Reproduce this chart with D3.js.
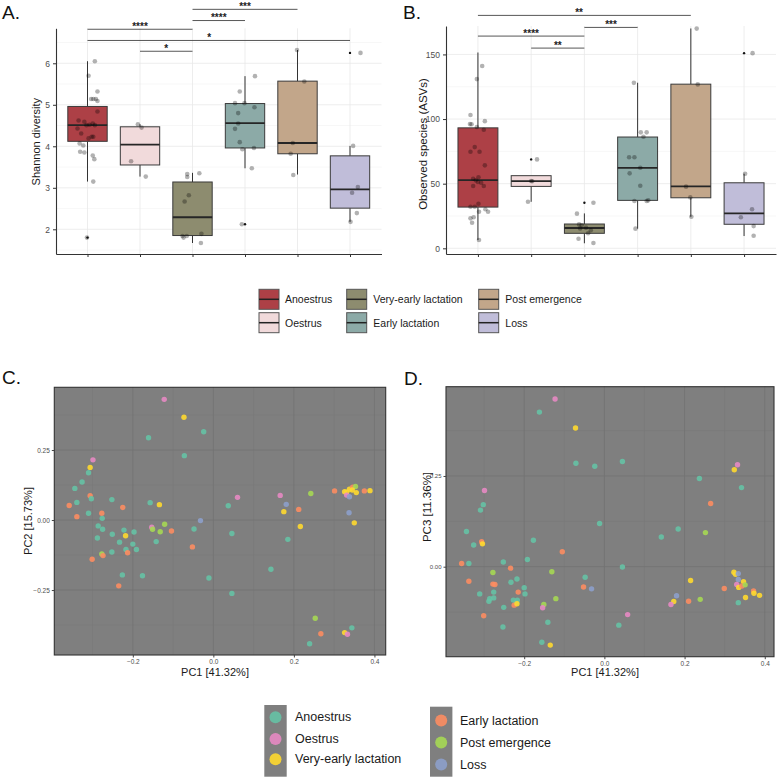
<!DOCTYPE html>
<html><head><meta charset="utf-8">
<script src="https://cdn.jsdelivr.net/npm/d3@7"></script>
<style>body{margin:0;background:#fff}svg{display:block;font-family:"Liberation Sans",Arial,sans-serif}</style>
</head><body><svg id="c" width="777" height="778"></svg>
<script>
// ---------- DATA ----------
const groups = ["Anoestrus","Oestrus","Very-early lactation","Early lactation","Post emergence","Loss"];

// Panel A: Shannon diversity (box stats)
const shannonQ1 = [4.12, 3.55, 1.85, 3.96, 3.82, 2.51];
const shannonMedian = [4.51, 4.04, 2.29, 4.56, 4.08, 2.96];
const shannonQ3 = [4.96, 4.47, 3.14, 5.03, 5.57, 3.77];
const shannonLower = [3.15, 3.27, 1.67, 3.47, 3.32, 2.18];
const shannonUpper = [6.05, 4.53, 3.36, 5.69, 6.32, 4.01];
const shannonOutliers = [[1.80], [], [], [2.12], [], [6.25]];
// jittered samples: [value, jitter in category units]
const shannonPoints = [
  [[6.05,0.14],[5.70,0.02],[5.32,0.19],[5.14,0.07],[5.14,0.11],[5.14,0.16],[5.09,0.19],[4.84,0.19],[4.62,-0.17],[4.59,-0.06],[4.51,-0.02],[4.52,0.04],[4.55,0.10],[4.51,0.14],[4.43,-0.19],[4.31,-0.12],[4.19,0.02],[4.23,0.08],[4.23,0.11],[4.07,-0.15],[4.02,-0.08],[3.87,-0.14],[3.85,-0.06],[3.78,0.10],[3.69,0.13],[3.15,0.11],[1.80,-0.01]],
  [[4.53,-0.04],[4.45,0.03],[3.64,-0.17],[3.27,0.11]],
  [[3.33,-0.10],[3.26,-0.10],[3.35,0.13],[2.82,-0.07],[2.67,-0.15],[1.84,-0.19],[1.84,-0.11],[1.80,-0.17],[1.89,0.17],[1.67,0.16]],
  [[5.69,0.19],[5.32,-0.10],[5.04,-0.19],[5.04,-0.01],[4.94,0.18],[4.80,-0.13],[4.55,-0.13],[4.42,-0.19],[4.10,-0.10],[3.93,-0.05],[3.96,0.17],[3.47,0.13],[2.12,-0.06]],
  [[6.32,-0.01],[5.56,0.13],[4.08,-0.09],[3.82,-0.13],[3.31,-0.08]],
  [[6.25,0.20],[4.01,0.06],[3.02,0.15],[2.88,0.04],[2.39,0.13],[2.18,0.01]]
];
const shannonTicks = [2, 3, 4, 5, 6];
const shannonMinor = [1.5, 2.5, 3.5, 4.5, 5.5, 6.5];
// brackets: [from group, to group, y value, label, label position (category units)]
const shannonBrackets = [[0,2,6.82,"****",1.0],[0,5,6.55,"*",2.32],[1,2,6.29,"*",1.5],[2,3,7.03,"****",2.5],[2,4,7.30,"***",3.0]];

// Panel B: Observed species
const observedQ1 = [31.9, 47.9, 11.6, 37.1, 39.1, 18.6];
const observedMedian = [52.8, 52.0, 15.7, 62.3, 47.9, 27.1];
const observedQ3 = [93.2, 56.2, 18.8, 86.1, 127.0, 50.7];
const observedLower = [6.4, 36.0, 3.9, 15.2, 24.4, 9.5];
const observedUpper = [151.5, 56.2, 27.0, 128.1, 170.1, 57.7];
const observedOutliers = [[], [68.8], [35.3], [], [], [151.0]];
const observedPoints = [
  [[141,0.08],[130.9,-0.02],[103.1,-0.14],[96.1,-0.15],[96,-0.12],[98.4,0.13],[93.8,-0.02],[91.7,0.11],[78.3,-0.06],[74.7,-0.14],[74.7,0.03],[64.2,0.13],[53.8,-0.09],[54.9,0.01],[52.6,-0.04],[51.3,0],[50.7,0.06],[48.2,-0.09],[48.2,0.11],[34.5,0.01],[32.2,-0.14],[32.2,-0.06],[30.2,0.14],[28.3,0.19],[28.3,0.02],[23.2,-0.14],[24,-0.08],[19.8,-0.11],[6.4,0.02]],
  [[68.8,0.11],[51.9,0.02],[52.1,0.0],[36,-0.06]],
  [[35.2,0.17],[26.8,-0.14],[18.5,-0.1],[17.9,-0.05],[16,0.03],[15.4,-0.08],[14,0.12],[11.6,0.07],[7.4,-0.11],[4.1,0.17]],
  [[128,-0.07],[89.7,0.06],[89.7,0.17],[86.3,0.11],[70.4,-0.16],[70.4,-0.06],[58,-0.15],[62.3,0.05],[48.4,0.05],[36.6,-0.06],[36.6,0.17],[37.1,0.2],[15.2,-0.04]],
  [[170,0.11],[126.8,0.13],[47.7,-0.09],[39.4,-0.01],[24.4,0.01]],
  [[151,0.16],[57.7,0.02],[30.2,0.15],[24,-0.06],[17.2,0.18],[9.7,0.18]]
];
const observedTicks = [0, 50, 100, 150];
const observedMinor = [25, 75, 125];
const observedBrackets = [[0,4,180.2,"**",1.9],[0,2,164.2,"****",1.0],[1,2,154.9,"**",1.5],[2,3,170.9,"***",2.5]];

// Panels C & D: PCoA samples [PC1, PC2/PC3, group index]
const pcoaPC1PC2 = [
[-0.122,0.431,1],[-0.073,0.367,2],[-0.024,0.315,0],[-0.161,0.294,0],[-0.072,0.230,0],[-0.299,0.215,1],[-0.306,0.188,2],[-0.310,0.169,0],[-0.326,0.136,0],[-0.344,0.113,0],
[-0.306,0.087,3],[-0.303,0.076,0],[-0.252,0.073,0],[-0.339,0.063,0],[-0.358,0.052,3],[-0.157,0.062,0],[-0.134,0.055,2],[-0.225,0.045,3],[-0.310,0.024,0],[-0.277,0.024,3],
[-0.339,0.012,3],[-0.276,0.006,0],[-0.286,-0.021,0],[-0.275,-0.033,0],[-0.288,-0.064,0],[-0.251,-0.051,0],[-0.222,-0.036,0],[-0.218,-0.056,2],[-0.197,-0.043,0],[-0.233,-0.079,0],
[-0.200,-0.086,0],[-0.217,-0.105,0],[-0.191,-0.105,0],[-0.252,-0.114,0],[-0.277,-0.121,4],[-0.274,-0.127,3],[-0.213,-0.117,3],[-0.301,-0.140,3],[-0.226,-0.196,0],[-0.176,-0.199,0],
[-0.235,-0.235,3],[-0.153,-0.026,1],[-0.151,-0.033,4],[-0.132,-0.042,4],[-0.121,-0.015,4],[-0.142,-0.077,0],[-0.104,-0.039,3],[-0.032,-0.002,5],[-0.048,-0.032,0],[-0.052,-0.096,3],
[-0.011,-0.207,0],[0.046,-0.262,0],[0.037,0.051,0],[0.060,0.081,1],[0.046,-0.048,0],[0.143,-0.176,0],[0.166,0.088,1],[0.181,0.056,5],[0.175,0.030,2],[0.212,0.038,3],
[0.216,-0.023,2],[0.185,-0.069,0],[0.242,0.095,4],[0.301,0.104,3],[0.326,0.101,2],[0.331,0.099,2],[0.338,0.110,2],[0.331,0.089,1],[0.338,0.083,5],[0.346,0.117,3],
[0.353,0.120,4],[0.355,0.098,2],[0.345,0.107,2],[0.375,0.104,3],[0.389,0.105,2],[0.337,0.026,5],[0.350,-0.010,2],[0.253,-0.351,4],[0.344,-0.385,0],[0.267,-0.406,3],
[0.326,-0.402,2],[0.333,-0.408,1],[0.239,-0.442,0]
];
const pcoaPC1PC3 = [
[-0.123,0.462,1],[-0.162,0.426,0],[-0.072,0.382,2],[-0.071,0.285,0],[-0.024,0.277,0],[0.045,0.290,0],[0.332,0.281,1],[0.324,0.267,2],[0.237,0.243,0],[0.342,0.218,0],
[-0.299,0.210,1],[0.265,0.174,3],[-0.302,0.171,0],[-0.309,0.156,0],[-0.012,0.119,0],[0.184,0.104,0],[0.252,0.094,4],[0.142,0.082,0],[-0.344,0.097,0],[-0.177,0.073,0],
[-0.326,0.060,0],[-0.306,0.069,3],[-0.304,0.063,2],[-0.105,0.041,3],[-0.192,0.020,0],[-0.252,0.013,0],[-0.356,0.009,3],[-0.338,0.009,0],[0.045,-0.001,0],[-0.234,-0.004,3],
[-0.278,-0.016,4],[-0.131,-0.014,4],[-0.048,-0.029,0],[-0.338,-0.040,3],[-0.233,-0.043,0],[-0.218,-0.034,0],[-0.278,-0.048,3],[-0.273,-0.049,3],[0.215,-0.038,2],[-0.052,-0.056,3],
[-0.032,-0.061,5],[-0.200,-0.058,0],[-0.311,-0.075,0],[-0.276,-0.070,0],[-0.215,-0.070,3],[-0.198,-0.075,0],[-0.286,-0.088,0],[-0.276,-0.086,0],[-0.288,-0.095,0],[-0.227,-0.092,0],
[-0.217,-0.092,0],[-0.220,-0.098,0],[-0.225,-0.106,3],[-0.218,-0.102,2],[-0.121,-0.088,4],[-0.151,-0.104,4],[-0.154,-0.113,1],[-0.251,-0.112,0],[-0.301,-0.135,3],[0.058,-0.132,1],
[-0.141,-0.153,0],[-0.253,-0.166,0],[0.036,-0.161,0],[0.180,-0.080,5],[0.173,-0.096,2],[0.166,-0.104,1],[0.210,-0.095,3],[0.239,-0.090,4],[0.299,-0.060,3],[0.323,-0.015,2],
[0.327,-0.021,2],[0.334,-0.019,5],[0.334,-0.035,5],[0.330,-0.049,1],[0.335,-0.057,2],[0.347,-0.041,2],[0.343,-0.053,3],[0.351,-0.050,4],[0.352,-0.085,2],[0.334,-0.099,0],
[0.372,-0.067,3],[0.373,-0.073,2],[0.387,-0.079,2],[-0.156,-0.208,0],[-0.135,-0.216,2]
];
const pcXTicks = [-0.2, 0.0, 0.2, 0.4];
const pcXMinor = [-0.3, -0.1, 0.1, 0.3];
const pc2Ticks = [-0.25, 0.00, 0.25];
const pc2Minor = [-0.375, -0.125, 0.125, 0.375];
const pc3Ticks = [0.00, 0.25];
const pc3Minor = [-0.125, 0.125, 0.375];

// ---------- STYLE ----------
const boxFill = ["#ad4046","#f1dadb","#8d8c6f","#8caaa7","#c2a68a","#c0bdd9"];
const pcoaColors = ["#66c2a5","#e78ac3","#ffd92f","#fc8d62","#a6d854","#8da0cb"];
const panelGray = "#7f7f7f";

const svg = d3.select("#c");
svg.append("rect").attr("width",777).attr("height",778).attr("fill","#fff");

function boxPanel(o){
  const g = svg.append("g");
  const x = d3.scalePoint().domain(groups).range(o.xr).padding(0.6);
  const y = d3.scaleLinear().domain(o.yd).range(o.yr);
  const step = x.step(), bw = step*0.75;
  const [x0,x1] = o.xr, [yb,yt] = o.yr;
  g.selectAll(null).data(o.minor).join("line")
    .attr("x1",x0).attr("x2",x1).attr("y1",d=>y(d)).attr("y2",d=>y(d))
    .attr("stroke","#f2f2f2").attr("stroke-width",0.6);
  g.selectAll(null).data(o.ticks).join("line")
    .attr("x1",x0).attr("x2",x1).attr("y1",d=>y(d)).attr("y2",d=>y(d))
    .attr("stroke","#e8e8e8").attr("stroke-width",0.8);
  g.selectAll(null).data(groups).join("line")
    .attr("x1",d=>x(d)).attr("x2",d=>x(d)).attr("y1",yt).attr("y2",yb)
    .attr("stroke","#e8e8e8").attr("stroke-width",0.8);
  const ya = g.append("g").attr("transform",`translate(${x0},0)`)
    .call(d3.axisLeft(y).tickValues(o.ticks).tickSize(3).tickSizeOuter(0).tickPadding(3).tickFormat(d3.format("d")));
  ya.selectAll("text").attr("font-size",8.5).attr("fill","#4d4d4d").attr("font-family","Liberation Sans, Arial");
  ya.selectAll("line").attr("stroke","#333");
  ya.select(".domain").attr("stroke","#333").attr("stroke-width",1.1);
  const xa = g.append("g").attr("transform",`translate(0,${yb})`)
    .call(d3.axisBottom(x).tickSize(3).tickSizeOuter(0).tickFormat(""));
  xa.selectAll("line").attr("stroke","#333");
  xa.select(".domain").attr("stroke","#333").attr("stroke-width",1.1);

  groups.forEach((gr,i)=>{
    const cx = x(gr);
    const bg = g.append("g");
    bg.append("line").attr("x1",cx).attr("x2",cx).attr("y1",y(o.q3[i])).attr("y2",y(o.hi[i])).attr("stroke","#333").attr("stroke-width",1);
    bg.append("line").attr("x1",cx).attr("x2",cx).attr("y1",y(o.q1[i])).attr("y2",y(o.lo[i])).attr("stroke","#333").attr("stroke-width",1);
    bg.append("rect").attr("x",cx-bw/2).attr("width",bw).attr("y",y(o.q3[i])).attr("height",y(o.q1[i])-y(o.q3[i]))
      .attr("fill",boxFill[i]).attr("stroke","#3a3a3a").attr("stroke-width",1);
    bg.append("line").attr("x1",cx-bw/2).attr("x2",cx+bw/2).attr("y1",y(o.med[i])).attr("y2",y(o.med[i])).attr("stroke","#262626").attr("stroke-width",1.8);
    bg.selectAll(null).data(o.out[i]).join("circle").attr("cx",cx).attr("cy",d=>y(d)).attr("r",1.2).attr("fill","#111");
    g.selectAll(null).data(o.pts[i]).join("circle")
      .attr("cx",d=>cx+d[1]*step).attr("cy",d=>y(d[0])).attr("r",2.3)
      .attr("fill","#000").attr("fill-opacity",0.3);
  });
  o.brackets.forEach(b=>{
    const yy = y(b[2]);
    g.append("line").attr("x1",x(groups[b[0]])).attr("x2",x(groups[b[1]])).attr("y1",yy).attr("y2",yy).attr("stroke","#444").attr("stroke-width",0.9);
    g.append("text").attr("x",x(groups[0])+b[4]*step).attr("y",yy+0.8).attr("text-anchor","middle")
      .attr("font-size",10).attr("font-weight","bold").attr("fill","#222").text(b[3]);
  });
  g.append("text").attr("transform",`translate(${o.titleX},${o.titleY}) rotate(-90)`).attr("text-anchor","middle")
    .attr("dominant-baseline","central").attr("font-size",o.titleSize).attr("fill","#1a1a1a").text(o.title);
}

boxPanel({xr:[56,381.5], yd:[1.405,6.843], yr:[254,28.3], ticks:shannonTicks, minor:shannonMinor,
  q1:shannonQ1, med:shannonMedian, q3:shannonQ3, lo:shannonLower, hi:shannonUpper, out:shannonOutliers,
  pts:shannonPoints, brackets:shannonBrackets, title:"Shannon diversity", titleX:36, titleY:141.7, titleSize:11});
boxPanel({xr:[446,776], yd:[-4.4,172.0], yr:[254,26], ticks:observedTicks, minor:observedMinor,
  q1:observedQ1, med:observedMedian, q3:observedQ3, lo:observedLower, hi:observedUpper, out:observedOutliers,
  pts:observedPoints, brackets:observedBrackets, title:"Observed species (ASVs)", titleX:423.3, titleY:144, titleSize:11.5});

// Panel letters
[["A.",2,18.5],["B.",403,19],["C.",2,384],["D.",404,385]].forEach(t=>{
  svg.append("text").attr("x",t[1]).attr("y",t[2]).attr("font-size",19).attr("fill","#111").text(t[0]);
});

// Top legend
const legTop = [[259,289.3,285],[259,312.7,285],[346.7,289.3,373.3],[346.7,312.7,373.3],[478.7,289.3,505.3],[478.7,312.7,505.3]];
groups.forEach((gr,i)=>{
  const [sx,sy,tx] = legTop[i];
  svg.append("rect").attr("x",sx).attr("y",sy).attr("width",20).attr("height",20).attr("fill",boxFill[i]).attr("stroke","#555").attr("stroke-width",1);
  svg.append("line").attr("x1",sx).attr("x2",sx+20).attr("y1",sy+10).attr("y2",sy+10).attr("stroke","#222").attr("stroke-width",1.5);
  svg.append("text").attr("x",tx).attr("y",sy+10).attr("dominant-baseline","central").attr("font-size",10.5).attr("fill","#1a1a1a").text(gr);
});

// PCoA panels
function pcoaPanel(o){
  const g = svg.append("g");
  const x = d3.scaleLinear().domain(o.xd).range(o.xr);
  const y = d3.scaleLinear().domain(o.yd).range(o.yr);
  const [x0,x1]=o.xr, [yb,yt]=o.yr;
  g.append("rect").attr("x",x0).attr("y",yt).attr("width",x1-x0).attr("height",yb-yt).attr("fill",panelGray);
  g.selectAll(null).data(o.xMinor).join("line").attr("x1",d=>x(d)).attr("x2",d=>x(d)).attr("y1",yt).attr("y2",yb).attr("stroke","#787878").attr("stroke-width",0.5);
  g.selectAll(null).data(o.yMinor).join("line").attr("y1",d=>y(d)).attr("y2",d=>y(d)).attr("x1",x0).attr("x2",x1).attr("stroke","#787878").attr("stroke-width",0.5);
  g.selectAll(null).data(o.xTicks).join("line").attr("x1",d=>x(d)).attr("x2",d=>x(d)).attr("y1",yt).attr("y2",yb).attr("stroke","#727272").attr("stroke-width",0.8);
  g.selectAll(null).data(o.yTicks).join("line").attr("y1",d=>y(d)).attr("y2",d=>y(d)).attr("x1",x0).attr("x2",x1).attr("stroke","#727272").attr("stroke-width",0.8);
  g.selectAll(null).data(o.data).join("circle").attr("cx",d=>x(d[0])).attr("cy",d=>y(d[1])).attr("r",2.7)
    .attr("fill",d=>pcoaColors[d[2]]).attr("fill-opacity",0.9);
  g.append("rect").attr("x",x0).attr("y",yt).attr("width",x1-x0).attr("height",yb-yt).attr("fill","none").attr("stroke","#333").attr("stroke-width",1.1);
  const xa = g.append("g").attr("transform",`translate(0,${yb})`)
    .call(d3.axisBottom(x).tickValues(o.xTicks).tickSize(2.5).tickPadding(2).tickFormat(d3.format(".1f")));
  xa.select(".domain").remove();
  xa.selectAll("text").attr("font-size",6.5).attr("fill","#4d4d4d").attr("font-family","Liberation Sans, Arial");
  xa.selectAll("line").attr("stroke","#444");
  const ya = g.append("g").attr("transform",`translate(${x0},0)`)
    .call(d3.axisLeft(y).tickValues(o.yTicks).tickSize(2.5).tickPadding(2).tickFormat(d3.format(".2f")));
  ya.select(".domain").remove();
  ya.selectAll("text").attr("font-size",o.yTickSize).attr("fill","#4d4d4d").attr("font-family","Liberation Sans, Arial");
  ya.selectAll("line").attr("stroke","#444");
  g.append("text").attr("x",(x0+x1)/2-5).attr("y",676).attr("text-anchor","middle").attr("font-size",11).attr("fill","#1a1a1a").text("PC1 [41.32%]");
  g.append("text").attr("transform",`translate(${o.ylabX},${o.ylabY}) rotate(-90)`).attr("text-anchor","middle")
    .attr("dominant-baseline","central").attr("font-size",o.ylabSize).attr("fill","#1a1a1a").text(o.ylab);
}
pcoaPanel({xd:[-0.395,0.428], xr:[54.3,385.7], yd:[-0.482,0.474], yr:[655,387.3], data:pcoaPC1PC2,
  xTicks:pcXTicks, xMinor:pcXMinor, yTicks:pc2Ticks, yMinor:pc2Minor, ylab:"PC2 [15.73%]", ylabX:27.5, ylabY:521, ylabSize:11, yTickSize:6.5});
pcoaPanel({xd:[-0.395,0.423], xr:[446,774], yd:[-0.248,0.496], yr:[656.7,386.7], data:pcoaPC1PC3,
  xTicks:pcXTicks, xMinor:pcXMinor, yTicks:pc3Ticks, yMinor:pc3Minor, ylab:"PC3 [11.36%]", ylabX:426.7, ylabY:507, ylabSize:11.5, yTickSize:6});

// Bottom legend
const legBoxes = [[264.3,705,[717.3,739,759.3],295],[430,706.7,[720.5,742.5,764.5],460]];
legBoxes.forEach((b,k)=>{
  const [bx,by,cys,tx] = b;
  svg.append("rect").attr("x",bx).attr("y",by).attr("width",22.4).attr("height",776.7-by).attr("fill",panelGray);
  cys.forEach((cy,j)=>{
    const i = k*3+j;
    svg.append("circle").attr("cx",bx+11.2).attr("cy",cy).attr("r",6).attr("fill",pcoaColors[i]).attr("fill-opacity",0.9);
    svg.append("text").attr("x",tx).attr("y",cy).attr("dominant-baseline","central").attr("font-size",12.5).attr("fill","#1a1a1a").text(groups[i]);
  });
});
</script></body></html>
